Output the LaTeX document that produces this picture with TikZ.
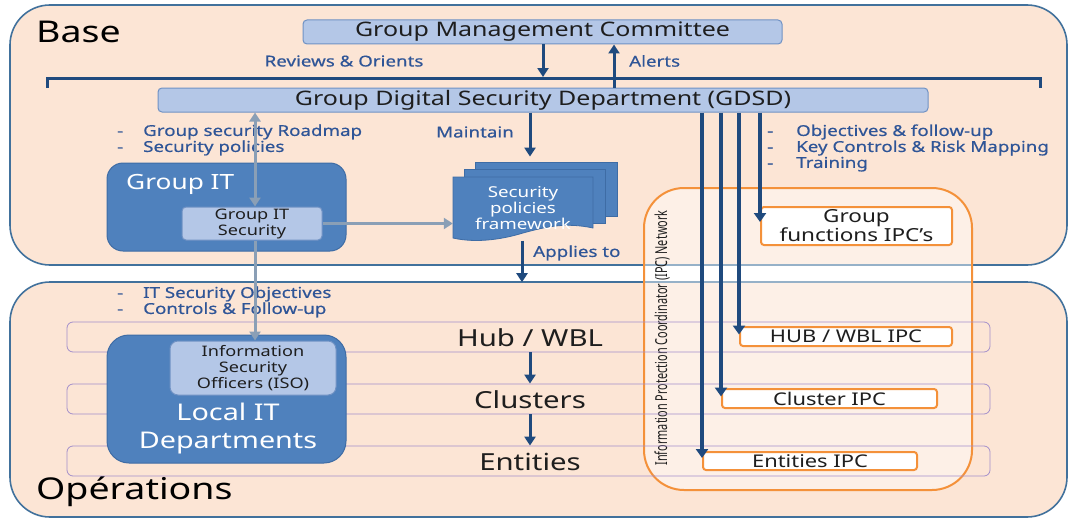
\documentclass[tikz,border=0pt]{standalone}
\usepackage{fontspec}
\setmainfont{Noto Sans}[FakeStretch=1.25]
\newfontfamily\notefont{Noto Sans}[FakeStretch=1.25,FakeBold=0.5]
\newfontfamily\condfont{Noto Sans}[FakeStretch=0.66]
\usetikzlibrary{arrows.meta,calc}
\definecolor{peach}{HTML}{FCE5D5}
\definecolor{panelc}{HTML}{41719C}
\definecolor{darkc}{HTML}{1F4A7E}
\definecolor{lblue}{HTML}{B4C7E7}
\definecolor{lbborder}{HTML}{7092C4}
\definecolor{mblue}{HTML}{4F81BD}
\definecolor{mborder}{HTML}{3E6CA5}
\definecolor{grayc}{HTML}{8A9FB6}
\definecolor{orangec}{HTML}{F4913A}
\definecolor{purplec}{HTML}{A48FCB}
\definecolor{bluet}{HTML}{2F5597}
\definecolor{textc}{HTML}{1E1E1E}
\tikzset{
  panel/.style={draw=panelc, line width=1.6pt, fill=peach, rounded corners=40pt, inner sep=0},
  lbox/.style={draw=lbborder, fill=lblue, rounded corners=4pt, line width=1pt, inner sep=0, text=textc},
  dbox/.style={fill=mblue, draw=mborder, line width=1pt, rounded corners=16pt, inner sep=0},
  ipcbox/.style={draw=orangec, fill=white, line width=2pt, rounded corners=3pt, inner sep=0, text=textc, font=\fontsize{17.5}{19}\selectfont},
  rowbox/.style={draw=purplec, line width=0.8pt, rounded corners=6pt, inner sep=0},
  rowtxt/.style={text=textc, inner sep=0, font=\fontsize{23.5}{26}\selectfont},
  darr/.style={draw=darkc, line width=3pt, -{Triangle[length=9pt,width=11pt]}},
  iarr/.style={draw=darkc, line width=3.6pt, -{Triangle[length=9pt,width=12pt]}},
  garr/.style={draw=grayc, line width=3pt, -{Triangle[length=9pt,width=11pt]}},
  note/.style={text=bluet, inner sep=0, font=\notefont\fontsize{15}{16}\selectfont},
  title/.style={text=black, inner sep=0, font=\fontsize{30}{32}\selectfont},
  docshape/.style={fill=mblue, draw=mborder, line width=0.8pt},
}
\begin{document}
\begin{tikzpicture}[x=1pt,y=-1pt]
\useasboundingbox (0,0) rectangle (1070,519);
% panels
\node[panel, minimum width=1057pt, minimum height=260pt] (base) at (538.5,135) {};
\node[panel, minimum width=1057pt, minimum height=235pt] (ops) at (538.5,399.5) {};
\node[title, anchor=west] (basetxt) at (36,32) {Base};
\node[title, anchor=west] (opstxt) at (36,492) {Opérations};

% IPC network
\node[draw=orangec, line width=2pt, fill=white, fill opacity=0.45, rounded corners=40pt, minimum width=328pt, minimum height=302pt, inner sep=0] (ipcnet) at (808,339) {};
\node[rotate=90, inner sep=0, text=textc, font=\condfont\fontsize{16.5}{17}\selectfont] (ipclabel) at (662,338) {Information Protection Coordinator (IPC) Network};

% rows
\node[rowbox, minimum width=923pt, minimum height=30pt] (hubrow) at (528.5,337) {};
\node[rowbox, minimum width=923pt, minimum height=30pt] (clrow) at (528.5,399) {};
\node[rowbox, minimum width=923pt, minimum height=30pt] (entrow) at (528.5,461) {};
\node[rowtxt] (hubtxt) at (530,338) {Hub / WBL};
\node[rowtxt] (cltxt) at (530,400) {Clusters};
\node[rowtxt] (enttxt) at (530,462) {Entities};

% top boxes
\node[lbox, minimum width=479pt, minimum height=24pt, font=\fontsize{20}{22}\selectfont] (gmc) at (542.5,32) {Group Management Committee};
\node[lbox, minimum width=770pt, minimum height=24pt, font=\fontsize{20}{22}\selectfont] (gdsd) at (543,100) {Group Digital Security Department (GDSD)};

% bracket
\coordinate (brL) at (47,88);
\coordinate (brR) at (1040,88);
\coordinate (brM) at (543,78);
\draw[draw=darkc, line width=3pt] (brL) -- ++(0,-10) -| (brR);
\draw[darr] (gmc.south -| brM) -- ($(brM)+(0,-1)$);
\coordinate (alx) at (614,0);
\draw[darr] (gdsd.north -| alx) -- (gmc.south -| alx);
\node[note] (reviews) at (344,61) {Reviews \& Orients};
\node[note, anchor=west] (alerts) at (629,61) {Alerts};

% Group IT
\node[dbox, minimum width=239pt, minimum height=88pt] (groupit) at (226.5,207) {};
\node[text=white, inner sep=0, anchor=west, font=\fontsize{21}{22}\selectfont] (gittxt) at (126,184) {Group IT};
\node[lbox, minimum width=140pt, minimum height=33pt, align=center, font=\fontsize{14.5}{16}\selectfont] (gits) at (252,223.5) {Group IT\\Security};

% Local IT
\node[dbox, rounded corners=22pt, minimum width=239pt, minimum height=128pt] (localit) at (226.5,399) {};
\node[lbox, rounded corners=8pt, minimum width=166pt, minimum height=54pt, align=center, font=\fontsize{14.5}{16}\selectfont] (iso) at (253,368) {Information\\Security\\Officers (ISO)};
\node[text=white, inner sep=0, align=center, font=\fontsize{23}{28}\selectfont] (littxt) at (228,429) {Local IT\\Departments};

% document stack
\node[docshape, minimum width=142pt, minimum height=54pt, inner sep=0] (docback) at (546,189) {};
\node[docshape, minimum width=141pt, minimum height=54pt, inner sep=0] (docmid) at (534.5,196) {};
\draw[docshape] (453,177) -- (593,177) -- (593,228) .. controls (565,222) and (545,227) .. (523,233) .. controls (500,240) and (475,243) .. (453,238) -- cycle;
\node[text=white, inner sep=0, align=center, minimum width=140pt, minimum height=61pt, font=\fontsize{15}{16}\selectfont] (spf) at (523,208) {Security\\policies\\framework};

% notes
\node[note, anchor=west, align=left] (n1) at (117,140) {\makebox[26pt][l]{-}Group security Roadmap\\\makebox[26pt][l]{-}Security policies};
\node[note] (maint) at (475,132) {Maintain};
\node[note, anchor=west, align=left] (n3) at (767,148) {\makebox[29pt][l]{-}Objectives \& follow-up\\\makebox[29pt][l]{-}Key Controls \& Risk Mapping\\\makebox[29pt][l]{-}Training};
\node[note, anchor=west, align=left] (n4) at (117,302) {\makebox[26pt][l]{-}IT Security Objectives\\\makebox[26pt][l]{-}Controls \& Follow-up};
\node[note, anchor=west] (applies) at (533,253) {Applies to};

% maintain / applies arrows
\coordinate (mx) at (530,0);
\draw[darr] (gdsd.south -| mx) -- ($(mx |- docback.north)+(0,-5)$);
\coordinate (ax) at (522,0);
\draw[darr] ($(ax |- spf.south)+(0,2)$) -- ($(ax |- ops.north)+(0,1)$);
\draw[darr] (hubtxt |- hubrow.south) -- (hubtxt |- clrow.north);
\draw[darr] (hubtxt |- clrow.south) -- (hubtxt |- entrow.north);

% gray arrows
\coordinate (gx) at (255,0);
\draw[garr, {Triangle[length=9pt,width=11pt]}-{Triangle[length=9pt,width=11pt]}] (gdsd.south -| gx) -- (gits.north -| gx);
\draw[garr] (gits.south -| gx) -- (iso.north -| gx);
\draw[garr] (gits.east) -- (gits.east -| spf.west);

% IPC boxes
\node[ipcbox, minimum width=191pt, minimum height=38pt, align=center, font=\fontsize{18}{19}\selectfont] (gfipc) at (856.5,226) {Group\\functions IPC’s};
\node[ipcbox, minimum width=212pt, minimum height=19pt] (hubipc) at (846,336.5) {HUB / WBL IPC};
\node[ipcbox, minimum width=215pt, minimum height=19pt] (clipc) at (829.5,398.5) {Cluster IPC};
\node[ipcbox, minimum width=214pt, minimum height=18pt] (entipc) at (810,461) {Entities IPC};

% IPC arrows
\draw[iarr] (gdsd.south -| entipc.west) -- ($(entipc.west)+(0,-3)$);
\draw[iarr] (gdsd.south -| clipc.west) -- ($(clipc.west)+(0,-2)$);
\draw[iarr] (gdsd.south -| hubipc.west) -- ($(hubipc.west)+(0,-2)$);
\draw[iarr] (gdsd.south -| gfipc.west) -- ($(gfipc.west)+(0,-4)$);
\end{tikzpicture}
\end{document}
